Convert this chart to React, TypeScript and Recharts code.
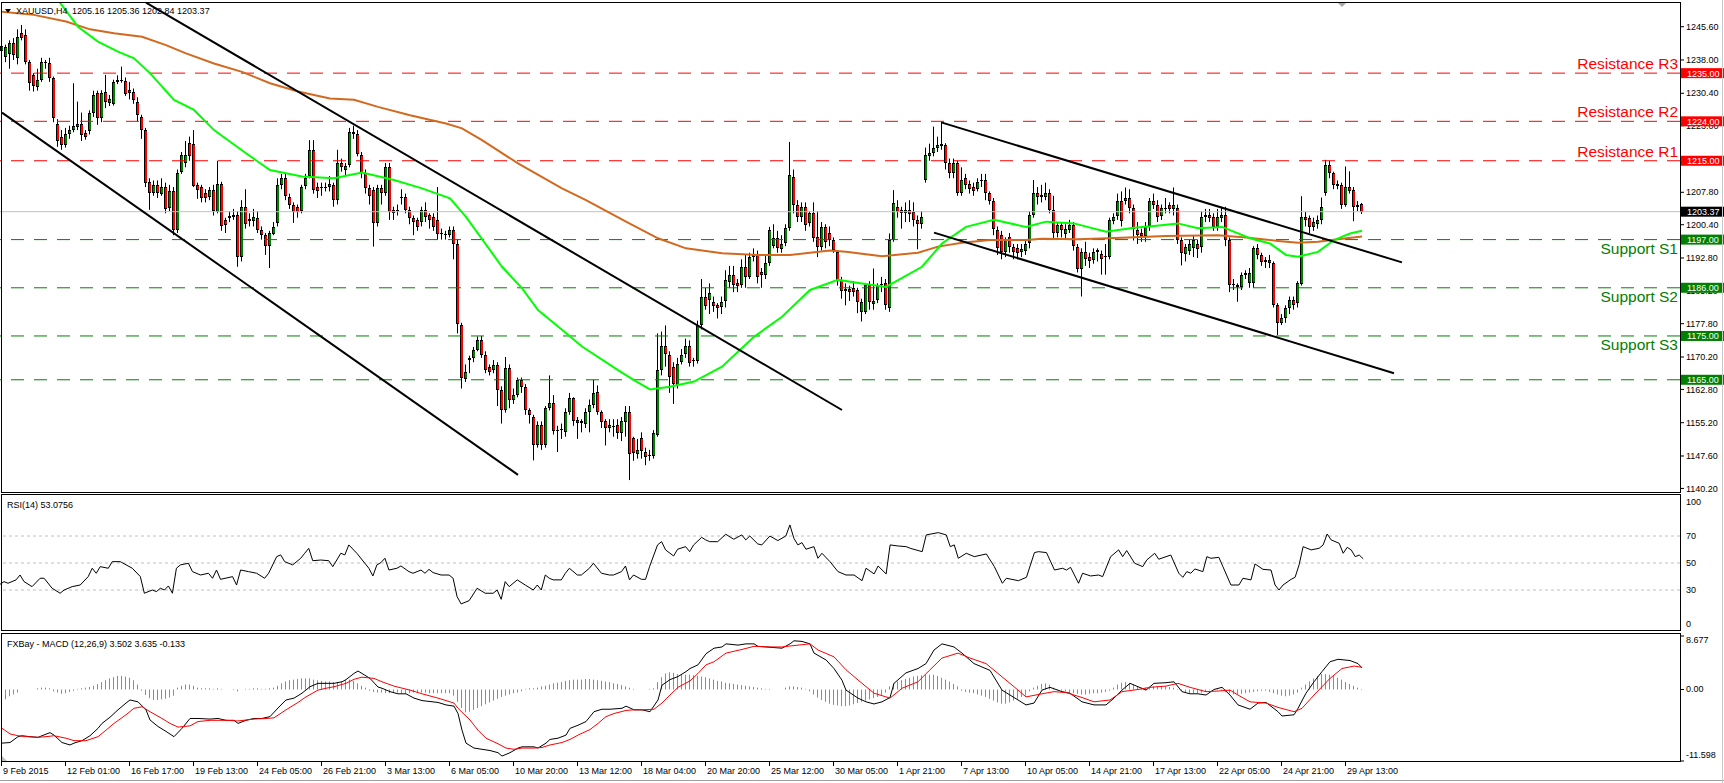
import React from "react";
import { ComposedChart, Bar, Line, XAxis, YAxis, ReferenceLine } from "recharts";

const FONT = "'Liberation Sans', Arial, sans-serif";
const SLOTS = 420; // bar slots across the window, right part is the chart shift

// XAUUSD H4 candles [open, high, low, close], 9 Feb 2015 onwards
const candles: number[][] = [
  [1240.0,1243.5,1238.5,1241.2],[1238.8,1241.5,1237.5,1241.0],[1239.2,1242.5,1236.0,1241.8],[1241.8,1243.0,1238.0,1239.0],
  [1238.5,1245.0,1237.0,1243.3],[1244.2,1246.0,1242.5,1243.0],[1243.8,1245.0,1237.0,1237.6],[1237.6,1238.0,1231.0,1232.7],
  [1234.5,1235.0,1230.8,1231.9],[1231.9,1236.0,1231.0,1233.4],[1233.4,1238.5,1233.0,1237.6],[1237.6,1238.0,1236.0,1237.3],
  [1237.3,1238.5,1233.0,1233.8],[1233.8,1234.2,1223.8,1224.7],[1223.5,1224.5,1218.2,1219.7],[1220.5,1222.0,1217.5,1218.6],
  [1218.6,1222.5,1218.0,1221.2],[1221.0,1223.0,1220.0,1222.0],[1222.0,1232.7,1221.5,1223.0],[1222.8,1228.5,1222.0,1223.5],
  [1223.5,1226.0,1219.5,1220.9],[1221.4,1222.0,1219.8,1220.5],[1221.6,1226.5,1221.0,1225.8],[1225.8,1231.0,1225.0,1230.0],
  [1230.4,1231.0,1223.2,1224.7],[1224.7,1231.1,1223.8,1230.4],[1230.7,1234.6,1227.0,1228.5],[1228.2,1230.0,1227.5,1229.0],
  [1228.0,1233.5,1227.6,1233.0],[1233.0,1234.5,1232.5,1233.4],[1233.4,1236.5,1232.8,1233.2],[1233.3,1234.0,1229.8,1230.4],
  [1231.1,1233.0,1229.0,1230.4],[1230.8,1231.5,1228.0,1228.9],[1228.5,1229.5,1224.0,1225.5],[1225.0,1225.5,1220.0,1222.0],
  [1222.0,1222.5,1209.0,1209.8],[1210.2,1211.0,1203.8,1207.6],[1207.6,1210.5,1207.0,1209.4],[1209.4,1210.5,1206.5,1207.6],
  [1207.6,1211.0,1207.0,1209.1],[1209.1,1210.0,1203.0,1204.1],[1204.1,1209.5,1203.5,1208.0],[1208.0,1209.0,1198.0,1199.2],
  [1199.2,1213.0,1198.5,1212.1],[1212.5,1217.0,1212.0,1216.3],[1214.4,1219.5,1213.5,1216.3],[1219.0,1220.5,1215.0,1216.0],
  [1218.9,1222.0,1209.0,1209.4],[1209.4,1210.0,1206.3,1208.3],[1209.0,1209.5,1205.5,1206.4],[1207.6,1208.5,1205.5,1206.5],
  [1206.8,1209.0,1206.0,1208.3],[1208.3,1209.5,1202.5,1203.4],[1203.4,1215.0,1203.0,1209.8],[1209.8,1210.2,1199.0,1200.3],
  [1201.5,1202.0,1198.5,1200.3],[1202.0,1203.5,1201.0,1202.5],[1202.2,1204.0,1201.5,1202.6],[1202.6,1203.5,1190.8,1193.1],
  [1193.1,1206.0,1192.0,1204.5],[1204.5,1208.5,1199.5,1200.7],[1201.8,1203.0,1200.0,1201.4],[1201.4,1204.0,1200.0,1202.2],
  [1202.0,1203.5,1198.5,1199.2],[1199.2,1200.0,1197.0,1198.0],[1198.0,1198.5,1193.5,1195.4],[1195.4,1199.0,1190.5,1198.4],
  [1198.4,1201.0,1198.0,1199.9],[1200.7,1211.0,1200.0,1209.4],[1209.4,1212.0,1208.5,1211.0],[1211.0,1212.0,1206.0,1206.8],
  [1206.8,1207.5,1204.0,1204.9],[1204.9,1205.5,1200.8,1203.4],[1204.5,1205.0,1202.0,1203.4],[1203.7,1209.5,1203.0,1209.1],
  [1209.1,1212.0,1208.5,1211.0],[1211.4,1219.7,1211.0,1217.4],[1217.4,1219.7,1207.5,1208.3],[1209.1,1210.0,1206.5,1208.3],
  [1209.0,1210.0,1207.0,1209.1],[1209.1,1210.0,1208.0,1209.0],[1209.8,1211.5,1208.0,1209.1],[1209.4,1210.0,1204.5,1206.0],
  [1206.0,1217.5,1205.0,1214.4],[1214.4,1215.5,1212.5,1213.6],[1212.9,1214.5,1211.5,1213.7],[1214.0,1222.5,1213.5,1221.6],
  [1221.6,1223.0,1220.0,1221.2],[1221.2,1222.0,1216.0,1216.7],[1216.3,1217.0,1211.0,1212.1],[1212.1,1213.0,1207.5,1208.7],
  [1208.7,1209.5,1205.0,1206.8],[1208.3,1209.0,1195.4,1200.7],[1200.7,1209.5,1200.0,1208.7],[1208.7,1209.5,1205.0,1207.6],
  [1207.6,1214.5,1207.0,1213.6],[1213.6,1214.5,1201.5,1203.4],[1203.7,1204.5,1201.5,1203.0],[1203.4,1205.0,1202.5,1203.7],
  [1206.6,1208.5,1205.0,1206.8],[1206.8,1207.5,1203.0,1203.8],[1203.8,1204.5,1200.5,1201.9],[1201.9,1202.5,1198.0,1201.1],
  [1201.5,1202.0,1199.0,1200.0],[1201.1,1204.5,1200.0,1203.8],[1203.8,1205.5,1201.0,1202.2],[1202.6,1203.0,1199.5,1201.5],
  [1202.2,1203.0,1199.0,1199.9],[1201.5,1209.0,1197.0,1198.4],[1198.6,1199.5,1197.0,1198.4],[1198.3,1199.0,1197.0,1198.0],
  [1198.0,1200.0,1197.5,1199.2],[1199.2,1200.0,1192.5,1196.1],[1196.1,1197.0,1175.6,1177.9],[1177.5,1178.0,1163.0,1165.3],
  [1165.3,1168.5,1164.5,1166.8],[1169.5,1170.5,1166.5,1169.9],[1169.9,1172.5,1169.0,1171.8],[1171.8,1174.9,1171.5,1174.1],
  [1174.1,1175.0,1170.0,1170.7],[1170.7,1171.5,1166.5,1167.2],[1168.0,1168.5,1166.0,1166.8],[1167.2,1169.5,1166.5,1168.3],
  [1168.3,1169.0,1159.0,1162.7],[1162.7,1163.5,1155.0,1158.1],[1158.1,1170.2,1157.5,1167.6],[1167.6,1168.5,1158.5,1160.4],
  [1160.4,1163.0,1159.5,1161.5],[1161.5,1165.5,1161.0,1164.9],[1164.9,1165.5,1162.0,1163.4],[1163.4,1164.0,1157.0,1158.1],
  [1158.1,1158.5,1155.0,1156.9],[1156.6,1157.0,1146.6,1150.1],[1150.1,1155.5,1149.5,1154.7],[1154.7,1155.5,1149.0,1150.1],
  [1150.1,1159.0,1149.5,1158.5],[1158.5,1166.0,1158.0,1159.6],[1159.6,1161.5,1152.5,1153.2],[1153.2,1154.5,1148.5,1153.5],
  [1153.5,1155.0,1151.5,1153.8],[1153.2,1158.5,1152.0,1157.7],[1157.7,1162.0,1157.0,1160.8],[1160.8,1161.0,1154.5,1155.5],
  [1155.8,1156.5,1151.5,1155.1],[1155.5,1156.0,1153.0,1155.0],[1155.0,1158.5,1154.0,1157.7],[1157.7,1160.5,1153.0,1159.3],
  [1159.3,1165.0,1158.5,1162.0],[1162.3,1163.7,1157.0,1157.7],[1157.7,1158.0,1154.0,1155.5],[1155.5,1156.0,1150.0,1153.9],
  [1154.0,1156.0,1153.0,1154.7],[1154.3,1156.0,1152.0,1154.4],[1154.7,1156.0,1151.5,1152.8],[1152.8,1156.5,1151.0,1155.5],
  [1155.5,1159.0,1152.0,1157.7],[1157.7,1159.0,1142.1,1148.2],[1151.6,1152.0,1146.5,1148.2],[1148.2,1151.5,1147.0,1149.0],
  [1151.6,1153.0,1147.0,1148.6],[1148.6,1149.5,1145.5,1147.5],[1147.8,1149.0,1146.5,1147.7],[1147.5,1153.5,1147.0,1152.8],
  [1152.4,1175.6,1152.0,1167.2],[1167.2,1176.0,1166.0,1172.6],[1172.6,1177.4,1168.0,1170.7],[1170.7,1171.5,1162.0,1165.7],
  [1167.9,1169.0,1159.5,1164.0],[1164.0,1170.0,1163.0,1168.7],[1169.1,1172.0,1168.5,1170.7],[1170.7,1174.4,1170.0,1172.6],
  [1172.6,1174.0,1168.0,1168.7],[1169.5,1170.0,1168.0,1169.2],[1169.2,1178.5,1168.7,1177.5],[1177.5,1188.0,1176.5,1184.0],
  [1184.0,1186.0,1181.0,1182.0],[1183.2,1187.0,1180.0,1184.8],[1182.8,1184.0,1180.5,1182.0],[1182.0,1182.5,1179.0,1181.3],
  [1181.6,1184.0,1180.0,1182.8],[1182.8,1190.0,1181.5,1187.7],[1187.4,1191.0,1186.0,1188.9],[1188.9,1191.0,1185.0,1186.6],
  [1187.0,1188.0,1185.0,1186.3],[1186.6,1192.5,1186.0,1190.8],[1190.8,1193.5,1186.0,1188.5],[1188.5,1194.0,1188.0,1193.1],
  [1193.1,1195.0,1192.0,1193.7],[1193.7,1194.5,1187.0,1188.5],[1189.5,1190.5,1186.0,1188.9],[1188.9,1193.5,1188.0,1191.6],
  [1191.6,1199.9,1191.0,1199.2],[1195.4,1200.5,1195.0,1197.3],[1197.3,1199.0,1194.0,1195.0],[1195.0,1198.0,1194.0,1196.1],
  [1196.1,1200.5,1195.5,1199.6],[1199.6,1219.3,1199.0,1211.7],[1211.3,1213.0,1203.0,1204.9],[1204.9,1206.0,1201.0,1202.2],
  [1202.2,1205.5,1201.0,1204.5],[1204.5,1205.5,1199.0,1200.3],[1200.7,1203.5,1200.0,1203.0],[1203.0,1205.5,1196.5,1197.3],
  [1197.7,1203.5,1193.0,1195.4],[1195.4,1201.0,1194.5,1199.9],[1199.9,1200.5,1195.0,1196.5],[1198.4,1200.0,1195.5,1196.9],
  [1196.9,1197.5,1194.0,1194.6],[1194.2,1194.5,1186.5,1187.7],[1187.7,1188.5,1183.5,1185.1],[1185.4,1187.0,1182.0,1185.8],
  [1185.8,1186.5,1183.0,1185.1],[1186.0,1187.5,1184.0,1185.1],[1185.5,1186.0,1180.2,1182.8],[1180.5,1183.5,1178.3,1182.8],
  [1180.5,1187.0,1180.0,1186.6],[1186.6,1187.5,1181.0,1182.8],[1182.2,1190.4,1181.0,1182.9],[1183.2,1187.0,1182.5,1186.6],
  [1186.5,1188.5,1185.0,1186.8],[1187.0,1188.0,1181.0,1182.0],[1181.3,1198.4,1180.5,1196.9],[1196.9,1208.3,1196.5,1205.3],
  [1204.5,1206.0,1202.0,1203.4],[1203.7,1204.5,1199.5,1203.0],[1203.0,1205.5,1201.0,1203.7],[1203.8,1206.0,1201.0,1203.0],
  [1203.4,1205.5,1200.0,1201.5],[1201.5,1202.5,1194.8,1200.7],[1200.7,1203.5,1199.5,1202.2],[1210.6,1218.0,1210.0,1216.3],
  [1216.0,1218.9,1215.0,1216.7],[1216.7,1222.8,1216.0,1217.9],[1217.9,1220.5,1217.0,1218.6],[1218.9,1224.0,1217.5,1218.5],
  [1218.5,1219.0,1213.0,1214.4],[1214.4,1215.5,1211.0,1212.1],[1212.1,1215.5,1211.0,1214.4],[1214.4,1215.0,1207.0,1207.6],
  [1207.6,1213.5,1207.0,1210.6],[1211.0,1212.0,1208.5,1209.5],[1209.8,1210.5,1207.5,1208.7],[1209.1,1210.0,1207.0,1208.3],
  [1208.7,1211.0,1208.0,1210.2],[1210.2,1212.0,1209.0,1210.5],[1210.5,1212.0,1206.0,1207.6],[1207.6,1208.0,1205.0,1205.7],
  [1205.7,1206.5,1198.0,1199.2],[1199.2,1200.0,1193.5,1195.0],[1198.0,1199.0,1192.5,1194.2],[1194.2,1197.5,1193.0,1196.9],
  [1197.7,1198.5,1194.0,1195.4],[1195.4,1196.0,1192.5,1194.2],[1195.0,1196.0,1192.5,1193.9],[1194.2,1196.0,1193.0,1194.8],
  [1194.6,1197.0,1193.5,1196.1],[1196.1,1203.5,1195.0,1202.6],[1202.6,1210.6,1202.0,1207.6],[1207.6,1209.0,1205.0,1206.8],
  [1206.8,1209.5,1205.5,1207.2],[1206.8,1210.0,1206.0,1207.7],[1207.6,1208.5,1203.0,1203.7],[1203.7,1207.0,1197.0,1198.4],
  [1198.4,1201.0,1197.5,1200.3],[1200.3,1201.0,1197.5,1199.2],[1198.4,1200.5,1197.0,1199.5],[1199.2,1201.5,1198.5,1200.3],
  [1200.3,1201.0,1194.5,1195.4],[1195.4,1196.0,1189.5,1190.4],[1190.4,1195.0,1184.0,1194.2],[1194.2,1196.5,1191.0,1192.7],
  [1193.1,1194.0,1190.5,1192.3],[1192.3,1195.0,1191.5,1194.2],[1194.6,1195.0,1192.0,1194.2],[1193.8,1194.5,1189.0,1192.6],
  [1192.9,1196.0,1189.0,1193.2],[1193.0,1202.0,1192.5,1201.4],[1201.4,1203.0,1200.5,1202.2],[1202.2,1207.5,1201.5,1205.7],
  [1205.7,1208.0,1200.0,1201.1],[1205.7,1208.9,1205.0,1206.4],[1206.4,1208.5,1203.0,1204.1],[1204.1,1205.0,1196.8,1199.2],
  [1199.2,1201.0,1196.0,1198.0],[1198.4,1199.5,1196.5,1197.7],[1197.7,1201.0,1196.5,1200.0],[1200.0,1206.5,1199.0,1205.7],
  [1205.7,1207.5,1204.0,1204.9],[1204.9,1206.0,1201.0,1202.2],[1202.2,1205.0,1201.5,1204.1],[1204.0,1206.5,1203.0,1204.2],
  [1204.9,1205.5,1203.0,1204.1],[1204.1,1208.9,1202.5,1204.9],[1204.1,1205.0,1196.0,1196.9],[1196.9,1197.5,1191.1,1193.9],
  [1193.9,1196.0,1192.0,1195.4],[1194.6,1197.0,1193.5,1196.1],[1195.0,1198.0,1193.0,1196.9],[1196.1,1197.0,1192.8,1195.0],
  [1195.4,1203.5,1194.0,1202.2],[1202.2,1204.0,1201.0,1202.6],[1202.6,1204.0,1201.0,1202.0],[1202.2,1203.0,1199.0,1200.0],
  [1200.0,1204.0,1199.0,1202.2],[1202.0,1204.5,1201.0,1202.6],[1202.6,1204.5,1195.5,1196.9],[1196.9,1197.5,1185.0,1186.6],
  [1186.6,1188.0,1185.5,1186.8],[1186.6,1187.0,1182.8,1186.2],[1186.2,1189.5,1185.5,1188.9],[1188.9,1190.0,1188.0,1189.3],
  [1187.0,1190.5,1186.0,1189.3],[1187.0,1195.5,1186.0,1195.0],[1195.0,1196.0,1192.5,1193.5],[1193.5,1194.0,1191.0,1192.0],
  [1192.3,1193.0,1190.5,1191.9],[1192.3,1193.5,1190.5,1191.6],[1191.6,1192.0,1181.5,1182.0],[1182.0,1182.5,1175.2,1177.9],
  [1177.9,1180.0,1177.5,1179.0],[1179.0,1182.0,1178.0,1181.3],[1181.3,1184.0,1180.0,1183.2],[1183.2,1184.0,1181.0,1182.0],
  [1182.5,1187.5,1181.5,1187.0],[1187.0,1206.9,1186.5,1202.2],[1202.2,1203.3,1200.0,1201.5],[1202.0,1202.5,1198.5,1199.9],
  [1199.9,1202.0,1199.0,1201.1],[1200.7,1202.5,1199.5,1201.5],[1201.5,1206.6,1200.5,1204.5],[1207.6,1215.2,1207.0,1214.0],
  [1214.0,1215.0,1211.0,1212.1],[1212.1,1212.5,1208.5,1209.4],[1209.8,1210.5,1208.5,1209.4],[1209.4,1210.0,1204.0,1204.9],
  [1204.9,1213.7,1204.5,1209.1],[1209.1,1212.6,1207.5,1208.3],[1208.3,1209.0,1201.2,1204.5],[1204.9,1205.8,1203.5,1204.5],
  [1205.16,1205.36,1202.84,1203.37],
];

// moving averages: [bar, price]
const ma50Pts: number[][] = [
  [10,1256.5],[14,1251.7],[19,1245.6],[24,1242.2],[29,1239.9],[33,1238.4],[37,1235.0],[43,1228.9],[48,1226.6],[53,1222.0],
  [61,1216.7],[67,1212.9],[75,1211.4],[83,1211.0],[90,1212.3],[98,1210.6],[105,1208.7],[112,1206.4],[116,1202.2],[125,1190.8],
  [130,1185.9],[134,1180.9],[140,1176.4],[145,1172.6],[154,1167.2],[158,1164.9],[162,1162.8],[167,1163.4],[173,1164.6],[180,1168.0],
  [188,1174.8],[195,1179.4],[202,1185.5],[209,1187.8],[215,1187.0],[221,1186.2],[230,1190.8],[235,1196.1],[241,1199.9],[248,1201.5],
  [256,1199.9],[261,1201.1],[268,1200.7],[276,1198.8],[283,1199.7],[288,1200.1],[294,1200.7],[299,1199.6],[305,1199.9],[312,1197.3],
  [317,1196.1],[321,1193.5],[324,1193.1],[329,1194.2],[333,1196.9],[337,1198.4],[340,1199.0],
];
const ma200Pts: number[][] = [
  [0,1249.0],[8,1248.3],[16,1246.8],[22,1245.0],[28,1244.1],[35,1243.3],[41,1241.4],[46,1239.5],[53,1237.2],[60,1235.3],
  [67,1232.7],[74,1230.8],[82,1229.2],[88,1228.9],[94,1227.3],[102,1225.4],[111,1223.5],[115,1222.4],[120,1219.7],[129,1214.4],
  [140,1208.7],[146,1206.0],[156,1201.1],[164,1197.3],[171,1195.0],[180,1193.9],[189,1193.5],[197,1193.5],[207,1194.5],[211,1194.2],
  [220,1193.2],[229,1194.0],[234,1195.4],[240,1196.3],[247,1196.9],[256,1196.9],[260,1197.2],[269,1197.1],[280,1197.4],[291,1197.8],
  [304,1198.0],[311,1197.5],[319,1196.7],[324,1196.3],[329,1196.5],[334,1197.1],[340,1197.7],
];

// RSI(14): [bar, value]
const rsiPts: number[][] = [
  [0,34.2],[1,36.2],[2,35],[4,37.5],[5,41.1],[6,36.2],[8,32.5],[10,38.7],[11,38.7],[13,31.3],[15,27.6],[16,30],[18,32.5],
  [20,33.7],[22,39.9],[23,46.1],[24,42.4],[25,47.3],[27,46.1],[28,51],[30,51],[33,46.1],[35,39.9],[36,27.6],[38,30],[39,28.8],
  [40,31.3],[41,30],[42,33],[43,27.6],[44,46.1],[45,48.6],[47,49.8],[48,43.6],[50,41.1],[52,42.4],[53,38.7],[54,44.8],[55,37.9],
  [58,39.9],[59,33.7],[60,44.8],[62,43.6],[64,42.4],[66,38.7],[67,42.4],[69,54.7],[70,56],[71,51],[73,48.6],[75,53.5],[76,57.2],
  [77,60.9],[78,51.7],[80,52.2],[82,51.7],[83,47.3],[85,57.2],[86,56],[87,63.4],[89,57.2],[91,49.8],[92,46.1],[93,40.4],[94,48.6],
  [95,50.3],[96,53.5],[97,44.8],[99,46.1],[100,47.8],[102,43.6],[103,42.4],[105,44.8],[106,42.4],[107,45.3],[108,42.9],[110,41.1],
  [112,41.1],[113,38.7],[114,25.1],[115,19.7],[117,22.1],[119,31.3],[121,27.6],[123,27.6],[124,30],[125,23.1],[126,36.2],[127,32.5],
  [129,37.5],[131,33.7],[133,30],[134,33.7],[135,30],[136,41.1],[137,38.7],[138,37.5],[140,37.5],[141,42.4],[142,46.1],[144,41.1],
  [145,41.1],[147,46.1],[148,49.8],[150,42.4],[152,41.1],[153,41.1],[155,43.6],[156,47.8],[157,37.5],[158,41.1],[160,37.9],[161,37.9],
  [162,47.3],[164,63.4],[165,65.8],[166,59.7],[168,55.2],[169,60.2],[171,62.1],[172,58.4],[173,63.4],[175,69],[176,67.1],[177,65.8],
  [179,65.8],[181,71.3],[183,67.6],[185,70.8],[186,67.1],[187,70],[189,64.1],[190,63.4],[192,70],[194,66.6],[196,70],[197,78.2],
  [198,68.3],[199,63.4],[200,65.1],[201,60.2],[203,62.1],[204,53.5],[205,57.2],[207,51],[209,43.6],[211,41.1],[213,41.1],[215,36.9],
  [216,46.1],[218,41.9],[219,47.8],[221,41.9],[222,63.4],[224,62.6],[226,62.1],[227,60.9],[230,58.4],[231,70.8],[234,72.5],[236,70.8],
  [237,62.1],[238,63.4],[239,53.5],[241,57.2],[243,54.7],[246,56.7],[248,47.3],[250,35],[251,38.7],[254,36.9],[256,39.4],[258,57.7],
  [259,58.4],[261,57.7],[263,44.8],[265,46.1],[266,44.8],[267,46.8],[269,35],[270,42.4],[272,40.4],[274,41.1],[275,39.9],[277,54.7],
  [279,59.7],[280,54.7],[281,59.2],[283,49.8],[285,47.3],[286,52.2],[288,57.2],[289,52.8],[292,55.9],[294,42.4],[295,39.4],[296,43.6],
  [297,42.4],[298,45.6],[300,43.6],[301,54.7],[302,53.5],[304,54.2],[305,47.3],[307,33.7],[309,33.7],[310,38.7],[312,37.5],[313,49.3],
  [315,45.3],[317,44.8],[318,33.7],[319,30],[320,33.7],[322,37.9],[323,39.4],[324,48.6],[325,62.1],[327,59.7],[329,60.9],[330,63.4],
  [331,71.5],[332,67.1],[334,64.6],[335,57.2],[336,61.6],[337,59.7],[338,54.7],[339,55.9],[340,53.1],
];

// MACD(12,26,9) main and signal: [bar, value]
const macdPts: number[][] = [
  [0,-8.7],[2,-8.6],[4,-7.65],[5,-7.5],[7,-7.65],[9,-7.76],[10,-7.5],[12,-7.0],[13,-7.4],[15,-8.6],[17,-9.0],[18,-8.7],[20,-8.3],
  [22,-7.5],[24,-6.3],[25,-5.5],[27,-4.5],[29,-3.3],[31,-2.2],[32,-1.7],[34,-2.0],[36,-3.3],[37,-4.95],[39,-6.0],[41,-6.8],[43,-7.65],
  [45,-6.3],[47,-4.7],[49,-4.7],[52,-4.8],[54,-4.7],[56,-5.0],[58,-5.0],[59,-5.5],[61,-5.0],[63,-4.7],[65,-4.7],[67,-4.4],[69,-3.0],
  [71,-1.7],[73,-1.4],[75,-0.6],[77,0.45],[79,1.0],[82,1.0],[83,1.0],[85,1.25],[86,1.6],[88,2.6],[89,3.0],[90,2.6],[92,1.8],[94,0.4],
  [95,0.2],[97,-0.35],[99,-0.7],[101,-0.7],[103,-1.4],[105,-1.8],[109,-2.1],[111,-2.5],[113,-2.7],[114,-3.9],[115,-6.6],[116,-8.7],
  [118,-9.5],[120,-9.7],[122,-9.9],[124,-10.25],[125,-10.8],[127,-10.25],[129,-9.5],[130,-9.3],[133,-9.3],[134,-9.5],[136,-8.7],
  [137,-8.1],[139,-7.9],[141,-7.4],[142,-6.3],[144,-5.8],[146,-5.2],[148,-3.6],[150,-3.2],[152,-3.2],[155,-3.05],[156,-2.7],[158,-3.3],
  [160,-3.3],[162,-3.6],[164,-1.7],[165,0.7],[167,1.6],[169,2.1],[171,2.9],[172,3.4],[174,4.0],[176,5.8],[178,6.7],[180,6.9],[181,7.4],
  [184,7.2],[186,7.4],[188,7.4],[189,7.0],[191,6.9],[193,6.8],[195,6.7],[197,7.4],[198,7.9],[200,7.8],[202,7.4],[203,5.9],[206,4.8],
  [208,3.4],[210,1.5],[211,-0.1],[214,-1.4],[216,-2.0],[218,-2.35],[220,-2.0],[222,-1.3],[223,1.0],[226,2.7],[229,3.4],[231,4.2],
  [233,6.4],[235,7.4],[238,6.9],[240,5.9],[243,4.2],[247,3.1],[250,-0.1],[254,-1.7],[256,-2.5],[258,-2.2],[260,-0.1],[262,0.35],
  [265,-0.35],[267,-0.6],[270,-2.0],[273,-2.5],[276,-2.5],[278,-1.4],[280,-0.1],[282,1.0],[284,0.45],[286,-0.1],[288,1.0],[291,1.1],
  [293,1.25],[295,-0.35],[297,-0.7],[299,-0.7],[301,-0.9],[303,0.0],[305,0.35],[307,-0.9],[309,-2.5],[312,-3.2],[314,-2.2],[316,-2.1],
  [319,-3.6],[320,-4.3],[323,-4.1],[324,-3.05],[326,-0.6],[328,1.25],[330,2.9],[332,4.5],[334,4.9],[337,4.7],[339,4.2],[340,3.5],
];
const signalPts: number[][] = [
  [0,-6.3],[2,-7.2],[4,-7.5],[6,-7.65],[9,-7.76],[11,-7.65],[13,-7.5],[16,-7.9],[18,-8.3],[21,-8.3],[24,-7.65],[26,-6.6],[28,-5.5],
  [31,-4.1],[33,-3.05],[35,-2.8],[37,-3.6],[40,-4.7],[42,-5.5],[44,-6.1],[47,-5.9],[49,-5.2],[52,-5.0],[56,-5.0],[59,-5.1],[63,-4.8],
  [66,-4.7],[68,-4.6],[71,-3.3],[74,-2.1],[76,-1.2],[79,-0.1],[81,0.2],[83,0.45],[86,1.0],[88,1.65],[90,2.0],[93,1.8],[95,1.25],
  [98,0.55],[102,-0.1],[105,-0.7],[109,-1.4],[113,-2.2],[114,-3.05],[117,-4.95],[119,-6.6],[121,-7.9],[124,-8.8],[126,-9.5],[128,-9.7],
  [130,-9.5],[133,-9.5],[135,-9.4],[137,-9.0],[140,-8.6],[142,-8.1],[144,-7.4],[147,-6.5],[149,-5.5],[151,-4.4],[153,-3.9],[156,-3.4],
  [158,-3.3],[160,-3.3],[163,-3.2],[165,-2.2],[167,-0.9],[169,0.35],[172,1.4],[174,2.6],[176,4.0],[178,4.5],[181,5.9],[185,6.5],
  [188,7.0],[192,6.9],[195,6.9],[199,7.2],[202,7.4],[204,6.4],[208,5.3],[211,3.2],[215,1.0],[218,-0.6],[222,-1.4],[225,0.2],[229,1.25],
  [232,3.2],[235,5.1],[239,5.9],[242,5.1],[246,4.2],[249,2.6],[253,0.45],[256,-1.2],[260,-0.7],[263,-0.35],[266,-0.5],[270,-1.3],
  [273,-2.0],[277,-1.7],[280,-0.35],[284,0.0],[287,0.35],[291,0.55],[294,1.0],[297,0.35],[301,-0.35],[304,-0.25],[307,-0.1],[309,-0.9],
  [312,-2.0],[316,-2.2],[319,-2.9],[323,-3.6],[325,-3.05],[328,-0.9],[332,1.8],[335,3.4],[338,3.8],[340,3.6],
];
// histogram, one value per bar
const histVals: number[] = [
  -2.2,-1.6,-1.1,-0.8,-0.5, 0,0,0,0, 0.2,0.3,0.3,0.2, -0.3,-0.5,-0.7,-0.6,-0.4,-0.2, 0.1,0.2,0.3,0.4,0.6,
  0.9,1.2,1.5,1.8,2.0,2.2,2.2,2.1,1.9,1.5, 0.8,-0.2,-0.9,-1.4,-1.7,-1.7,-1.6,-1.5,-1.3,-1.0,
  0.3,0.6,0.8,0.8,0.6, 0.3,0.2,0.2,0.2,0.1,0.2,0.1, 0,0,-0.1,-0.3,0, 0.1,0.1,0.2,0.2,0.1,0.1,0.2,0.3,
  0.6,1.0,1.3,1.5,1.6,1.7,1.8,1.8,1.8,1.6,1.5,1.4,1.3,1.3,1.2,1.2,1.3,1.5,1.6, 1.4,1.0,0.6,0.3,
  -0.2,-0.4,-0.5,-0.5,-0.6,-0.6,-0.5,-0.5,-0.6,-0.6,-0.6,-0.5,-0.5,-0.5,-0.5,-0.6,-0.6,-0.6,-0.6,-0.6,-0.6,
  -1.0,-2.0,-3.0,-3.7,-3.6,-3.3,-3.0,-2.7,-2.4,-2.1,-1.8,-1.5,-1.2,-1.0,-0.8,-0.6,-0.5,-0.3,
  0.1,0.2,0.2,0.3,0.5,0.6,0.8,1.0,1.1, 1.2,1.4,1.5,1.6,1.6,1.6,1.7,1.7,1.6,1.5,1.4,1.3,1.2,1.0,0.9,0.7,0.5,0.3,
  0.1,0,0,0,0.1,0.2, 1.2,2.0,2.6,2.8,2.7,2.5,2.5,2.4,2.4,2.3,
  2.2,2.1,2.0,1.8,1.6,1.4,1.3,1.1,1.0,0.9,0.8,0.7,0.6,0.5,0.4,0.3,0.2,0.1,0.1,0,0,0,0.3,0.5,0.5,0.4,0.3,
  0.1,-0.3,-0.8,-1.3,-1.7,-2.0,-2.3,-2.5,-2.6,-2.7,-2.7,-2.6,-2.4,-2.2,-2.0,-1.8,-1.6,-1.4,-1.2,-1.0,
  -0.5,0.5,1.0,1.3,1.5,1.7,1.9,2.1,2.2,2.3,2.4,2.4,2.4,2.2,1.9,1.6,1.3,0.9,0.5,
  -0.2,-0.4,-0.5,-0.6,-0.8,-1.0,-1.2,-1.5,-1.8,-2.1,-2.3,-2.3,-2.1,-1.8,-1.5,-1.2,-1.0,
  -0.3,0.3,0.6,0.9,1.0,0.8, 0.3,-0.1,-0.2,-0.3,-0.5,-0.6,-0.7,-0.8,-0.8,-0.7,-0.6,-0.6,-0.5,-0.4,-0.2,
  0.3,0.8,1.1,1.2,1.0,0.8,0.5, 0.3,0.3,0.4,0.5,0.5,0.5,0.5,0.4,0.3,0.1, -0.3,-0.5,-0.6,-0.6,-0.6,-0.5,-0.3,-0.1,0,
  -0.1,-0.2,-0.4,-0.6,-0.8,-0.8,-0.7,-0.6,-0.5,-0.4,-0.3,-0.2,-0.2, -0.4,-0.6,-0.8,-1.0,-1.1,-1.0,-0.8,-0.5,
  0.3,0.8,1.3,1.8,2.2,2.5,2.5,2.4,2.2,1.9,1.6,1.2,0.9,0.6,0.3,-0.1,
];

const timeLabels = [
  "9 Feb 2015", "12 Feb 01:00", "16 Feb 17:00", "19 Feb 13:00", "24 Feb 05:00", "26 Feb 21:00",
  "3 Mar 13:00", "6 Mar 05:00", "10 Mar 20:00", "13 Mar 12:00", "18 Mar 04:00", "20 Mar 20:00",
  "25 Mar 12:00", "30 Mar 05:00", "1 Apr 21:00", "7 Apr 13:00", "10 Apr 05:00", "14 Apr 21:00",
  "17 Apr 13:00", "22 Apr 05:00", "24 Apr 21:00", "29 Apr 13:00",
];
const labelBars = timeLabels.map((_, k) => k * 16);

const priceTicks = [1245.6, 1238.0, 1230.4, 1223.0, 1207.8, 1200.4, 1192.8, 1185.2, 1177.8, 1170.2, 1162.8, 1155.2, 1147.6, 1140.2];

const levelPrices = [1235, 1224, 1215, 1197, 1186, 1175, 1165];
const levelNames = ["Resistance R3", "Resistance R2", "Resistance R1", "Support S1", "Support S2", "Support S3", ""];
const lastPrice = 1203.37;

// hand drawn channel lines: [bar1, price1, bar2, price2]
const trendLines = [
  [0, 1226.0, 129, 1143.3],
  [36, 1251.1, 210, 1158.1],
  [235, 1223.7, 350, 1191.8],
  [233, 1198.6, 348, 1166.5],
];

type Row = { [k: string]: any };
const rows: Row[] = Array.from({ length: SLOTS }, (_, i) => ({ i }));
candles.forEach(([o, h, l, c], i) => Object.assign(rows[i], { o, h, l, c, range: [l, h] }));
ma50Pts.forEach(([i, v]) => { rows[i].ma50 = v; });
ma200Pts.forEach(([i, v]) => { rows[i].ma200 = v; });
rsiPts.forEach(([i, v]) => { rows[i].rsi = v; });
macdPts.forEach(([i, v]) => { rows[i].macd = v; });
signalPts.forEach(([i, v]) => { rows[i].signal = v; });
histVals.forEach((v, i) => { rows[i].hist = v; });

const RED = "#ff0000";
const GREEN = "#008000";
const badgeValues = [...levelPrices, lastPrice];
const badgeColor = (p: number) => (p === lastPrice ? "#000" : p > lastPrice ? RED : GREEN);

function Candle(props: any) {
  const { x, y, width, height, payload } = props;
  if (!payload || payload.o == null) return null;
  const { o, h, l, c } = payload;
  const cx = Math.round(x + width / 2);
  const top = Math.min(y, y + height);
  const hh = Math.abs(height);
  const span = h - l || 1;
  const yo = top + ((h - o) / span) * hh;
  const yc = top + ((h - c) / span) * hh;
  const bTop = Math.round(Math.min(yo, yc));
  const bH = Math.max(Math.round(Math.abs(yc - yo)), 1);
  return (
    <g>
      <line x1={cx - 0.5} x2={cx - 0.5} y1={top} y2={top + hh} stroke="#000" strokeWidth={1} />
      <rect x={cx - 2} y={bTop} width={3} height={bH} fill="#000" />
      {bH > 2 && <rect x={cx - 1} y={bTop + 1} width={2} height={bH - 2} fill={c >= o ? GREEN : RED} />}
    </g>
  );
}

function HistBar(props: any) {
  const { x, y, width, height } = props;
  if (height == null || isNaN(y)) return null;
  const cx = Math.round(x + width / 2);
  return <rect x={cx - 1} y={Math.min(y, y + height)} width={1} height={Math.abs(height)} fill="#8c8c8c" />;
}

function levelText(name: string, color: string, above: boolean) {
  return (p: any) => {
    if (!name) return null;
    const y = p.viewBox.y;
    return (
      <text x={1678} y={above ? y - 4 : y + 14} textAnchor="end" fill={color} fontSize={15.5} fontFamily={FONT}>
        {name}
      </text>
    );
  };
}

// price scale: plain labels first, the coloured level badges are listed last so they cover them
function PriceTick(p: any) {
  const v = p.payload.value;
  if (badgeValues.includes(v)) {
    return (
      <g>
        <rect x={1681} y={p.y - 5} width={43} height={10} fill={badgeColor(v)} />
        <text x={1687} y={p.y + 3.5} fill="#fff" fontSize={9} fontFamily={FONT}>{v.toFixed(2)}</text>
      </g>
    );
  }
  return (
    <text x={p.x} y={p.y} dy="0.355em" fontSize={9} fontFamily={FONT} fill="#000">{v.toFixed(2)}</text>
  );
}

function sideTick(shift: Record<string, number>, fmt: (v: number) => string) {
  return (p: any) => (
    <text x={p.x} y={p.y + (shift[String(p.payload.value)] || 0)} dy="0.355em" fontSize={9} fontFamily={FONT} fill="#000">
      {fmt(p.payload.value)}
    </text>
  );
}

function TimeTick(p: any) {
  const label = timeLabels[p.payload.value / 16];
  return (
    <g>
      <line x1={p.x - 0.5} x2={p.x - 0.5} y1={p.y} y2={p.y + 5} stroke="#000" />
      <text x={p.x + 1} y={p.y + 13} fontSize={9} fontFamily={FONT} fill="#000">{label}</text>
    </g>
  );
}

const W = 1724;
const axisW = 44;

export default function App() {
  return (
    <div style={{ position: "absolute", left: 0, top: 0, width: W, height: 783, background: "#fff", overflow: "hidden" }}>
      <div style={{ position: "absolute", left: 0, top: 0 }}>
        <ComposedChart width={W} height={493} data={rows} margin={{ top: 2, right: 0, bottom: 1, left: 0 }} barCategoryGap={0}>
          <XAxis dataKey="i" hide />
          <YAxis
            orientation="right" width={axisW} type="number" domain={[1139.38, 1251.24]} allowDataOverflow
            ticks={[...priceTicks, ...badgeValues]} interval={0} tickSize={4} tickMargin={2} axisLine={false}
            tickLine={{ stroke: "#000" }} tick={<PriceTick />}
          />
          {levelPrices.map((p, k) => (
            <ReferenceLine
              key={p} y={p} stroke={k < 3 ? RED : GREEN} strokeDasharray="13 10"
              label={levelText(levelNames[k], k < 3 ? RED : GREEN, k < 3)}
            />
          ))}
          <ReferenceLine y={lastPrice} stroke="#c0c0c0" />
          <Bar dataKey="range" shape={<Candle />} isAnimationActive={false} />
          <Line dataKey="ma200" stroke="#d2691e" strokeWidth={2} dot={false} connectNulls isAnimationActive={false} />
          <Line dataKey="ma50" stroke="#00ff00" strokeWidth={2} dot={false} connectNulls isAnimationActive={false} />
          {trendLines.map(([x1, y1, x2, y2], k) => (
            <ReferenceLine
              key={"t" + k} segment={[{ x: x1, y: y1 }, { x: x2, y: y2 }]}
              stroke="#000" strokeWidth={2} ifOverflow="visible"
            />
          ))}
        </ComposedChart>
      </div>

      <div style={{ position: "absolute", left: 0, top: 494 }}>
        <ComposedChart width={W} height={138} data={rows} margin={{ top: 1.5, right: 0, bottom: 1.5, left: 0 }}>
          <XAxis dataKey="i" hide />
          <YAxis
            orientation="right" width={axisW} type="number" domain={[0, 100]} ticks={[0, 30, 50, 70, 100]} interval={0}
            tickSize={4} tickMargin={2} axisLine={false} tickLine={false}
            tick={sideTick({ "100": 6, "0": -6.5 }, (v) => String(v))}
          />
          {[70, 50, 30].map((v) => (
            <ReferenceLine key={v} y={v} stroke="#c0c0c0" strokeDasharray="3 3" />
          ))}
          <Line dataKey="rsi" stroke="#000" strokeWidth={1} dot={false} connectNulls isAnimationActive={false} />
        </ComposedChart>
      </div>

      <div style={{ position: "absolute", left: 0, top: 634 }}>
        <ComposedChart width={W} height={149} data={rows} margin={{ top: 2, right: 0, bottom: 0, left: 0 }} barCategoryGap={0}>
          <XAxis
            dataKey="i" ticks={labelBars} interval={0} height={22} tickSize={0} tickMargin={0}
            axisLine={false} tickLine={false} tick={<TimeTick />}
          />
          <YAxis
            orientation="right" width={axisW} type="number" domain={[-11.598, 8.677]} allowDataOverflow
            ticks={[-11.598, 0, 8.677]} interval={0} tickSize={4} tickMargin={2} axisLine={false} tickLine={{ stroke: "#000" }}
            tick={sideTick({ "8.677": 4.3, "-11.598": -5.7, "0": -1 }, (v) => (v === 0 ? "0.00" : String(v)))}
          />
          <Bar dataKey="hist" shape={<HistBar />} isAnimationActive={false} />
          <Line dataKey="macd" stroke="#000" strokeWidth={1} dot={false} connectNulls isAnimationActive={false} />
          <Line dataKey="signal" stroke="#ff0000" strokeWidth={1} dot={false} connectNulls isAnimationActive={false} />
        </ComposedChart>
      </div>

      <svg width={W} height={783} style={{ position: "absolute", left: 0, top: 0, pointerEvents: "none" }}>
        <g fill="none" stroke="#000" strokeWidth={1}>
          <rect x={1.5} y={2.5} width={1679} height={490} />
          <rect x={1.5} y={494.5} width={1679} height={136} />
          <rect x={1.5} y={633.5} width={1679} height={128} />
        </g>
        <line x1={0} x2={W} y1={780.5} y2={780.5} stroke="#a0a0a0" />
        <line x1={1722.5} x2={1722.5} y1={0} y2={783} stroke="#c8c8c8" />
        <polygon points="5,9 11,9 8,13" fill="#000" />
        <polygon points="1338,3 1346,3 1342,7" fill="#a8a8a8" />
        <polygon points="2,756 2,761 7,761" fill="#c0c0c0" />
        <g fontFamily={FONT} fontSize={9} fill="#000">
          <text x={16} y={14}>XAUUSD,H4</text>
          <text x={72} y={14}>1205.16 1205.36 1202.84 1203.37</text>
          <text x={7} y={507.5}>RSI(14) 53.0756</text>
          <text x={7} y={647}>FXBay - MACD (12,26,9) 3.502 3.635 -0.133</text>
        </g>
      </svg>
    </div>
  );
}
